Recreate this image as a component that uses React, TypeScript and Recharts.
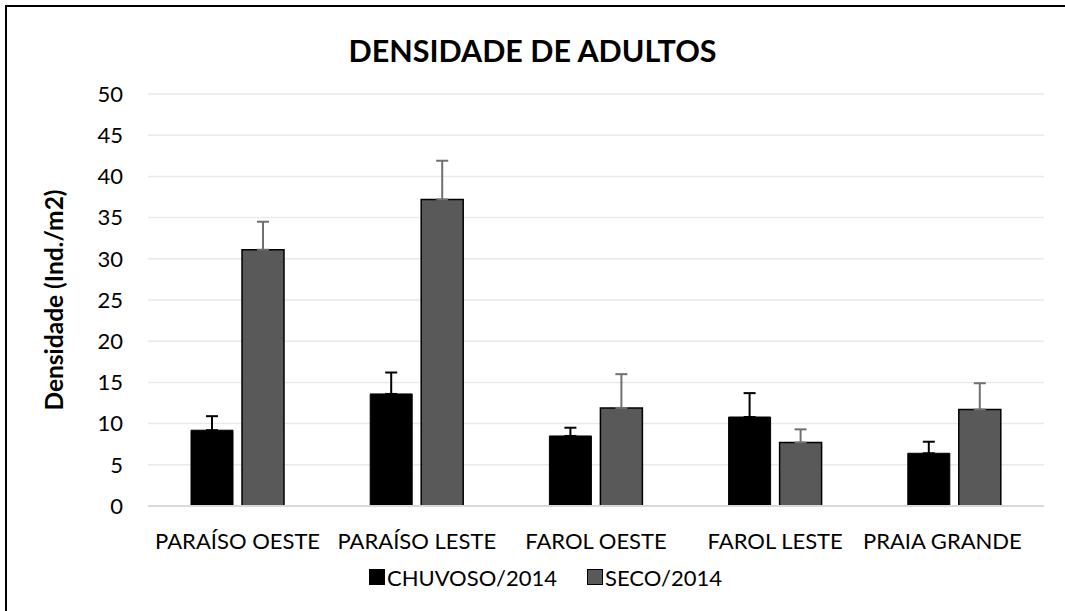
import React from 'react';
import { BarChart, Bar, XAxis, YAxis, CartesianGrid, ErrorBar, Legend } from 'recharts';

const categories = ['PARAÍSO OESTE', 'PARAÍSO LESTE', 'FAROL OESTE', 'FAROL LESTE', 'PRAIA GRANDE'];
const chuvoso = [9.2, 13.6, 8.5, 10.8, 6.4];
const chuvosoErr = [1.7, 2.6, 1.0, 2.9, 1.4];
const seco = [31.1, 37.2, 11.9, 7.7, 11.7];
const secoErr = [3.4, 4.7, 4.1, 1.6, 3.2];
const yTicks = [0, 5, 10, 15, 20, 25, 30, 35, 40, 45, 50];

const seriesNames = ['CHUVOSO/2014', 'SECO/2014'];
const seriesColors = ['#000000', '#595959'];

const data = categories.map((c, i) => ({
  name: c,
  chuvoso: chuvoso[i],
  chuvosoErr: [0, chuvosoErr[i]],
  seco: seco[i],
  secoErr: [0, secoErr[i]],
}));

const FONT = 'Lato, "Open Sans", sans-serif';

const LegendContent = () => (
  <div style={{ display: 'flex', justifyContent: 'center', alignItems: 'center', height: 30, paddingLeft: 26, fontFamily: FONT, fontSize: 22, color: '#000' }}>
    {seriesNames.map((n, i) => (
      <div key={n} style={{ display: 'flex', alignItems: 'center', marginRight: i === 0 ? 30 : 0 }}>
        <span style={{ display: 'inline-block', width: 14, height: 14, background: seriesColors[i], border: '1px solid #000', marginRight: 2 }} />
        <span>{n}</span>
      </div>
    ))}
  </div>
);

const YLabel = (props: any) => {
  const vb = props.viewBox || {};
  const cx = (vb.x || 0) + 53;
  const cy = (vb.y || 0) + (vb.height || 0) / 2;
  return (
    <text x={cx} y={cy} transform={`rotate(-90 ${cx} ${cy})`} textAnchor="middle" dominantBaseline="central"
      style={{ fontFamily: FONT, fontSize: 24.5, fontWeight: 700, fill: '#000' }}>
      Densidade (Ind./m2)
    </text>
  );
};

const XTick = (props: any) => {
  const { x, y, payload, index } = props;
  const shift = index === categories.length - 1 ? -12 : 0;
  return (
    <text x={x + shift} y={y} textAnchor="middle" dominantBaseline="central"
      style={{ fontFamily: FONT, fontSize: 22, fill: '#000' }}>
      {payload.value}
    </text>
  );
};

export default function App() {
  return (
    <div style={{ position: 'fixed', left: 0, top: 0, width: 1065, height: 611, background: '#fff', overflow: 'hidden' }}>
      <div style={{ position: 'absolute', left: 5, top: 5, width: 1200, height: 800, borderLeft: '2px solid #000', borderTop: '2px solid #000' }} />
      <div style={{ position: 'absolute', left: 0, top: 31, width: 1065, textAlign: 'center', fontFamily: FONT, fontWeight: 700, fontSize: 30.5, lineHeight: '38px', color: '#000' }}>
        DENSIDADE DE ADULTOS
      </div>
      <div style={{ position: 'absolute', left: 0, top: 0 }}>
        <BarChart width={1065} height={611} data={data} margin={{ top: 94, right: 21, left: 0, bottom: 19 }} barSize={42} barGap={9}>
          <CartesianGrid vertical={false} stroke="#e9e9e9" strokeWidth={1.5} />
          <XAxis dataKey="name" axisLine={{ stroke: '#d9d9d9', strokeWidth: 2 }} tickLine={false} tickSize={0} tickMargin={34} height={56}
            tick={<XTick />} interval={0} />
          <YAxis domain={[0, 50]} ticks={yTicks} axisLine={false} tickLine={false} tickSize={0} tickMargin={25} width={148}
            tick={{ fontFamily: FONT, fontSize: 22, fill: '#000' }} label={<YLabel />} />
          <Legend verticalAlign="bottom" content={<LegendContent />} wrapperStyle={{ bottom: 19, left: 0, width: 1065 }} />
          <Bar dataKey="chuvoso" name={seriesNames[0]} fill={seriesColors[0]} stroke="#000" strokeWidth={1} isAnimationActive={false}>
            <ErrorBar dataKey="chuvosoErr" direction="y" width={6} stroke="#000" strokeWidth={2} />
          </Bar>
          <Bar dataKey="seco" name={seriesNames[1]} fill={seriesColors[1]} stroke="#000" strokeWidth={1.5} isAnimationActive={false}>
            <ErrorBar dataKey="secoErr" direction="y" width={6} stroke="#707070" strokeWidth={2} />
          </Bar>
        </BarChart>
      </div>
    </div>
  );
}
